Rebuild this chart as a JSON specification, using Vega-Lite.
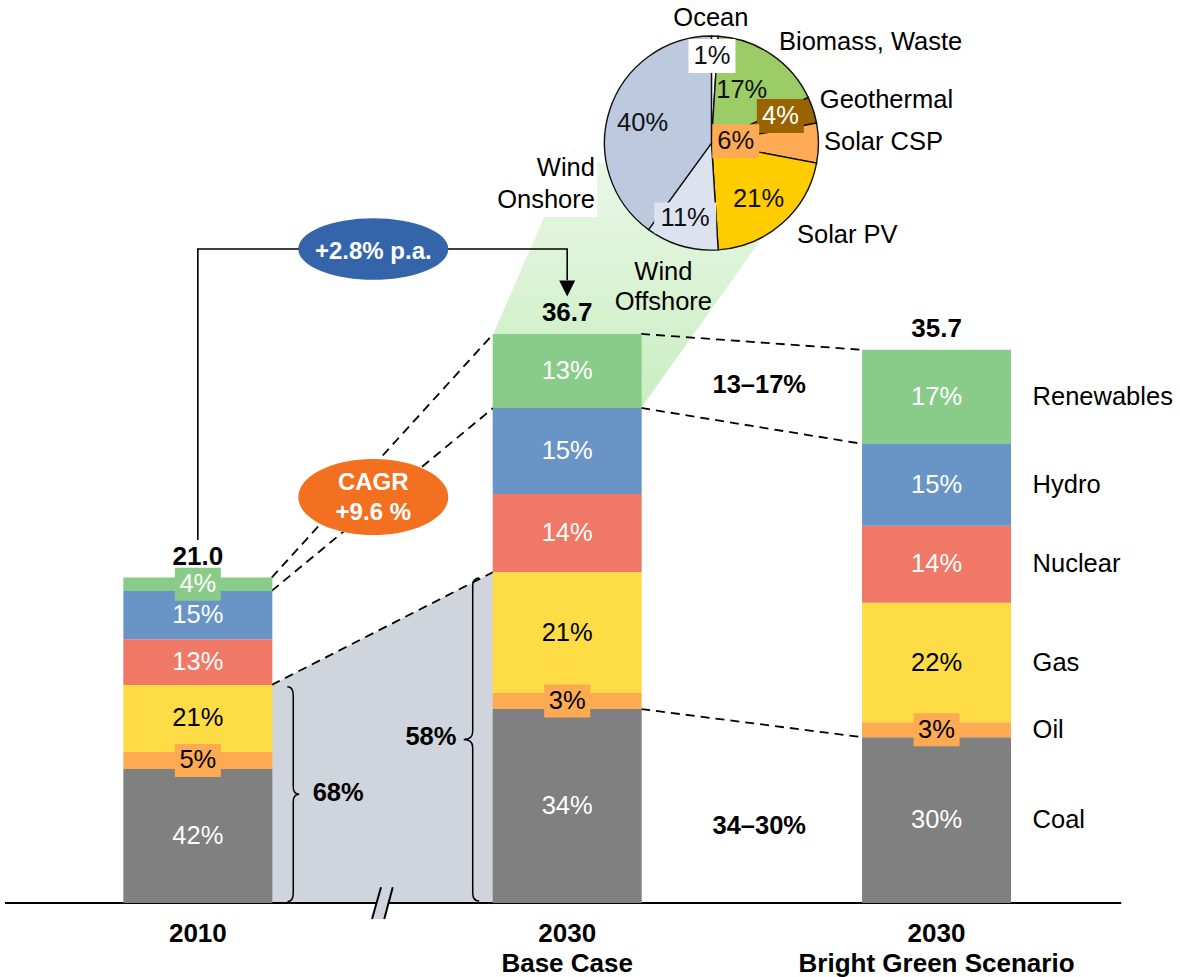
{
  "$schema": "https://vega.github.io/schema/vega-lite/v6.json",
  "width": 1180,
  "height": 977,
  "padding": 0,
  "autosize": {"type": "none"},
  "background": "white",
  "config": {"view": {"stroke": null}, "axis": {"disable": true}, "legend": {"disable": true}, "font": "Liberation Sans"},
  "datasets": {
    "mix": [
      {"scen": "2010", "pos": 0, "src": "Coal", "ord": 1, "value": 8.65, "pct": "42%"},
      {"scen": "2010", "pos": 0, "src": "Oil", "ord": 2, "value": 1.10, "pct": "5%"},
      {"scen": "2010", "pos": 0, "src": "Gas", "ord": 3, "value": 4.33, "pct": "21%"},
      {"scen": "2010", "pos": 0, "src": "Nuclear", "ord": 4, "value": 2.95, "pct": "13%"},
      {"scen": "2010", "pos": 0, "src": "Hydro", "ord": 5, "value": 3.12, "pct": "15%"},
      {"scen": "2010", "pos": 0, "src": "Renewables", "ord": 6, "value": 0.86, "pct": "4%"},
      {"scen": "2030 Base Case", "pos": 1, "src": "Coal", "ord": 1, "value": 12.52, "pct": "34%"},
      {"scen": "2030 Base Case", "pos": 1, "src": "Oil", "ord": 2, "value": 1.03, "pct": "3%"},
      {"scen": "2030 Base Case", "pos": 1, "src": "Gas", "ord": 3, "value": 7.82, "pct": "21%"},
      {"scen": "2030 Base Case", "pos": 1, "src": "Nuclear", "ord": 4, "value": 5.04, "pct": "14%"},
      {"scen": "2030 Base Case", "pos": 1, "src": "Hydro", "ord": 5, "value": 5.55, "pct": "15%"},
      {"scen": "2030 Base Case", "pos": 1, "src": "Renewables", "ord": 6, "value": 4.78, "pct": "13%"},
      {"scen": "2030 Bright Green Scenario", "pos": 2, "src": "Coal", "ord": 1, "value": 10.70, "pct": "30%"},
      {"scen": "2030 Bright Green Scenario", "pos": 2, "src": "Oil", "ord": 2, "value": 0.97, "pct": "3%"},
      {"scen": "2030 Bright Green Scenario", "pos": 2, "src": "Gas", "ord": 3, "value": 7.71, "pct": "22%"},
      {"scen": "2030 Bright Green Scenario", "pos": 2, "src": "Nuclear", "ord": 4, "value": 4.97, "pct": "14%"},
      {"scen": "2030 Bright Green Scenario", "pos": 2, "src": "Hydro", "ord": 5, "value": 5.29, "pct": "15%"},
      {"scen": "2030 Bright Green Scenario", "pos": 2, "src": "Renewables", "ord": 6, "value": 6.07, "pct": "17%"}
    ],
    "scen": [
      {"pos": 0, "label": "2010"},
      {"pos": 1, "label": "2030\nBase Case"},
      {"pos": 2, "label": "2030\nBright Green Scenario"}
    ],
    "pie": [
      {"slice": "Ocean", "share": 1, "ord": 1},
      {"slice": "Biomass, Waste", "share": 17, "ord": 2},
      {"slice": "Geothermal", "share": 4, "ord": 3},
      {"slice": "Solar CSP", "share": 6, "ord": 4},
      {"slice": "Solar PV", "share": 21, "ord": 5},
      {"slice": "Wind Offshore", "share": 11, "ord": 6},
      {"slice": "Wind Onshore", "share": 40, "ord": 7}
    ],
    "pieLabels": [
      {"slice": "Ocean", "pct": "1%", "x": 1.392, "y": 54.68},
      {"slice": "Biomass, Waste", "pct": "17%", "x": 1.4725, "y": 52.49},
      {"slice": "Geothermal", "pct": "4%", "x": 1.5772, "y": 50.81},
      {"slice": "Solar CSP", "pct": "6%", "x": 1.4564, "y": 49.19},
      {"slice": "Solar PV", "pct": "21%", "x": 1.5181, "y": 45.45},
      {"slice": "Wind Offshore", "pct": "11%", "x": 1.3195, "y": 44.22},
      {"slice": "Wind Onshore", "pct": "40%", "x": 1.204, "y": 50.35}
    ],
    "pieNames": [
      {"name": "Ocean", "x": 1.389, "y": 57.13},
      {"name": "Biomass, Waste", "x": 1.8215, "y": 55.58},
      {"name": "Geothermal", "x": 1.8644, "y": 51.84},
      {"name": "Solar CSP", "x": 1.8564, "y": 49.13},
      {"name": "Solar PV", "x": 1.7584, "y": 43.12},
      {"name": "Wind\nOffshore", "x": 1.2604, "y": 40.74}
    ],
    "notes": [
      {"label": "13–17%", "x": 1.52, "y": 33.44},
      {"label": "34–30%", "x": 1.52, "y": 4.97},
      {"label": "68%", "x": 0.38, "y": 7.1},
      {"label": "58%", "x": 0.631, "y": 10.74}
    ],
    "conn": [
      {"id": "c1", "i": 1, "x": 0.2, "y": 21.01}, {"id": "c1", "i": 2, "x": 0.8, "y": 36.74},
      {"id": "c2", "i": 1, "x": 0.2, "y": 20.15}, {"id": "c2", "i": 2, "x": 0.8, "y": 31.96},
      {"id": "c3", "i": 1, "x": 0.2, "y": 14.08}, {"id": "c3", "i": 2, "x": 0.8, "y": 21.37},
      {"id": "c4", "i": 1, "x": 1.2, "y": 36.74}, {"id": "c4", "i": 2, "x": 1.8, "y": 35.71},
      {"id": "c5", "i": 1, "x": 1.2, "y": 31.96}, {"id": "c5", "i": 2, "x": 1.8, "y": 29.64},
      {"id": "c6", "i": 1, "x": 1.2, "y": 12.52}, {"id": "c6", "i": 2, "x": 1.8, "y": 10.70}
    ],
    "gray": [{"x": 0.2, "y": 14.08}, {"x": 0.8, "y": 21.37}],
    "wedge": [
      {"x": 0.8, "y": 36.74, "y2": 36.74},
      {"x": 1.016, "y": 48.61, "y2": 34.15},
      {"x": 1.2, "y": 46.63, "y2": 31.96},
      {"x": 1.5315, "y": 43.06, "y2": 43.06}
    ],
    "arrow": [
      {"i": 1, "x": 0, "y": 23.43},
      {"i": 2, "x": 0, "y": 42.22},
      {"i": 3, "x": 1, "y": 42.22},
      {"i": 4, "x": 1, "y": 40.2}
    ]
  },
  "layer": [
    {
      "data": {"name": "wedge"},
      "mark": {"type": "area", "opacity": 1, "color": {"gradient": "linear", "x1": 0, "y1": 1, "x2": 0, "y2": 0, "stops": [{"offset": 0, "color": "#C9EEC1"}, {"offset": 1, "color": "#EBF8E8"}]}},
      "encoding": {
        "x": {"field": "x", "type": "quantitative", "scale": {"domain": [-0.5221, 2.6456], "nice": false, "zero": false}},
        "y": {"field": "y", "type": "quantitative", "stack": null, "scale": {"domain": [-4.777, 58.296], "nice": false, "zero": false}},
        "y2": {"field": "y2"}
      }
    },
    {
      "data": {"name": "gray"},
      "mark": {"type": "area", "color": "#D0D4DC", "opacity": 1},
      "encoding": {
        "x": {"field": "x", "type": "quantitative", "scale": {"domain": [-0.5221, 2.6456], "nice": false, "zero": false}},
        "y": {"field": "y", "type": "quantitative", "stack": null, "scale": {"domain": [-4.777, 58.296], "nice": false, "zero": false}},
        "y2": {"datum": 0}
      }
    },
    {
      "data": {"name": "conn"},
      "mark": {"type": "line", "stroke": "#000000", "strokeWidth": 1.8, "strokeDash": [9, 6]},
      "encoding": {
        "x": {"field": "x", "type": "quantitative", "scale": {"domain": [-0.5221, 2.6456], "nice": false, "zero": false}},
        "y": {"field": "y", "type": "quantitative", "scale": {"domain": [-4.777, 58.296], "nice": false, "zero": false}},
        "detail": {"field": "id"},
        "order": {"field": "i", "type": "quantitative"}
      }
    },
    {
      "data": {"values": [{}]},
      "mark": {"type": "rule", "stroke": "#000000", "strokeWidth": 2},
      "encoding": {
        "x": {"datum": -0.5221, "type": "quantitative", "scale": {"domain": [-0.5221, 2.6456], "nice": false, "zero": false}},
        "x2": {"datum": 2.5},
        "y": {"datum": 0, "type": "quantitative", "scale": {"domain": [-4.777, 58.296], "nice": false, "zero": false}}
      }
    },
    {
      "data": {"name": "mix"},
      "mark": {"type": "bar", "width": 149, "opacity": 1},
      "encoding": {
        "x": {"field": "pos", "type": "quantitative", "scale": {"domain": [-0.5221, 2.6456], "nice": false, "zero": false}},
        "y": {"field": "value", "type": "quantitative", "stack": "zero", "scale": {"domain": [-4.777, 58.296], "nice": false, "zero": false}},
        "color": {"field": "src", "type": "nominal", "legend": null, "scale": {"domain": ["Coal", "Oil", "Gas", "Nuclear", "Hydro", "Renewables"], "range": ["#808080", "#FDAA52", "#FEDC45", "#EF7866", "#6895C6", "#89CC89"]}},
        "order": {"field": "ord", "type": "quantitative"}
      }
    },
    {
      "data": {"name": "mix"},
      "mark": {"type": "point", "shape": "M-1,-0.717L1,-0.717L1,0.717L-1,0.717Z", "size": 2116, "filled": true, "strokeWidth": 0},
      "encoding": {
        "x": {"field": "pos", "type": "quantitative", "scale": {"domain": [-0.5221, 2.6456], "nice": false, "zero": false}},
        "y": {"field": "value", "type": "quantitative", "stack": "zero", "bandPosition": 0.5, "scale": {"domain": [-4.777, 58.296], "nice": false, "zero": false}},
        "detail": {"field": "src"},
        "order": {"field": "ord", "type": "quantitative"},
        "color": {"field": "src", "type": "nominal", "legend": null, "scale": {"domain": ["Coal", "Oil", "Gas", "Nuclear", "Hydro", "Renewables"], "range": ["#808080", "#FDAA52", "#FEDC45", "#EF7866", "#6895C6", "#89CC89"]}},
        "opacity": {"condition": {"test": "datum.value < 1.2", "value": 1}, "value": 0}
      }
    },
    {
      "data": {"name": "mix"},
      "mark": {"type": "text", "fontSize": 25.5, "align": "center", "baseline": "middle"},
      "encoding": {
        "x": {"field": "pos", "type": "quantitative", "scale": {"domain": [-0.5221, 2.6456], "nice": false, "zero": false}},
        "y": {"field": "value", "type": "quantitative", "stack": "zero", "bandPosition": 0.5, "scale": {"domain": [-4.777, 58.296], "nice": false, "zero": false}},
        "detail": {"field": "src"},
        "order": {"field": "ord", "type": "quantitative"},
        "text": {"field": "pct"},
        "color": {"condition": {"test": "datum.src === 'Gas' || datum.src === 'Oil'", "value": "#000000"}, "value": "#FFFFFF"}
      }
    },
    {
      "data": {"name": "mix"},
      "mark": {"type": "text", "fontSize": 26, "fontWeight": "bold", "align": "center", "baseline": "alphabetic", "dy": -13, "color": "#000000"},
      "encoding": {
        "x": {"field": "pos", "type": "quantitative", "scale": {"domain": [-0.5221, 2.6456], "nice": false, "zero": false}},
        "y": {"aggregate": "sum", "field": "value", "type": "quantitative", "scale": {"domain": [-4.777, 58.296], "nice": false, "zero": false}},
        "text": {"aggregate": "sum", "field": "value", "type": "quantitative", "format": ".1f"}
      }
    },
    {
      "data": {"name": "mix"},
      "transform": [{"filter": "datum.pos === 2"}],
      "mark": {"type": "text", "fontSize": 25.5, "align": "left", "baseline": "middle", "dx": 96, "color": "#000000"},
      "encoding": {
        "x": {"field": "pos", "type": "quantitative", "scale": {"domain": [-0.5221, 2.6456], "nice": false, "zero": false}},
        "y": {"field": "value", "type": "quantitative", "stack": "zero", "bandPosition": 0.5, "scale": {"domain": [-4.777, 58.296], "nice": false, "zero": false}},
        "detail": {"field": "src"},
        "order": {"field": "ord", "type": "quantitative"},
        "text": {"field": "src"}
      }
    },
    {
      "data": {"name": "scen"},
      "mark": {"type": "text", "fontSize": 26, "fontWeight": "bold", "align": "center", "baseline": "top", "dy": 18, "lineBreak": "\n", "lineHeight": 30, "color": "#000000"},
      "encoding": {
        "x": {"field": "pos", "type": "quantitative", "scale": {"domain": [-0.5221, 2.6456], "nice": false, "zero": false}},
        "y": {"datum": 0, "type": "quantitative", "scale": {"domain": [-4.777, 58.296], "nice": false, "zero": false}},
        "text": {"field": "label"}
      }
    },
    {
      "data": {"values": [{}]},
      "mark": {"type": "point", "shape": "M-0.656,1L-0.094,-0.98L0.64,-0.98L0.11,1Z", "size": 1024, "filled": true, "color": "#D0D4DC", "opacity": 1, "strokeWidth": 0},
      "encoding": {
        "x": {"datum": 0.5, "type": "quantitative", "scale": {"domain": [-0.5221, 2.6456], "nice": false, "zero": false}},
        "y": {"datum": 0, "type": "quantitative", "scale": {"domain": [-4.777, 58.296], "nice": false, "zero": false}}
      }
    },
    {
      "data": {"values": [{}]},
      "mark": {"type": "point", "shape": "M-0.656,1L-0.094,-0.98M0.11,1L0.64,-0.98", "size": 1024, "filled": false, "stroke": "#000000", "strokeWidth": 2, "opacity": 1},
      "encoding": {
        "x": {"datum": 0.5, "type": "quantitative", "scale": {"domain": [-0.5221, 2.6456], "nice": false, "zero": false}},
        "y": {"datum": 0, "type": "quantitative", "scale": {"domain": [-4.777, 58.296], "nice": false, "zero": false}}
      }
    },
    {
      "data": {"values": [{}]},
      "mark": {"type": "point", "shape": "M-0.055,-1Q0,-1,0,-0.92L0,-0.07Q0,0,0.056,0Q0,0,0,0.07L0,0.92Q0,1,-0.055,1", "size": 46225, "filled": false, "stroke": "#000000", "strokeWidth": 1.5, "opacity": 1},
      "encoding": {
        "x": {"datum": 0.2583, "type": "quantitative", "scale": {"domain": [-0.5221, 2.6456], "nice": false, "zero": false}},
        "y": {"datum": 7.024, "type": "quantitative", "scale": {"domain": [-4.777, 58.296], "nice": false, "zero": false}}
      }
    },
    {
      "data": {"values": [{}]},
      "mark": {"type": "point", "shape": "M0.04,-1Q0,-1,0,-0.95L0,-0.05Q0,0,-0.056,0Q0,0,0,0.05L0,0.95Q0,1,0.04,1", "size": 104329, "filled": false, "stroke": "#000000", "strokeWidth": 1.5, "opacity": 1},
      "encoding": {
        "x": {"datum": 0.7442, "type": "quantitative", "scale": {"domain": [-0.5221, 2.6456], "nice": false, "zero": false}},
        "y": {"datum": 10.555, "type": "quantitative", "scale": {"domain": [-4.777, 58.296], "nice": false, "zero": false}}
      }
    },
    {
      "data": {"name": "notes"},
      "mark": {"type": "text", "fontSize": 25.5, "fontWeight": "bold", "align": "center", "baseline": "middle", "color": "#000000"},
      "encoding": {
        "x": {"field": "x", "type": "quantitative", "scale": {"domain": [-0.5221, 2.6456], "nice": false, "zero": false}},
        "y": {"field": "y", "type": "quantitative", "scale": {"domain": [-4.777, 58.296], "nice": false, "zero": false}},
        "text": {"field": "label"}
      }
    },
    {
      "data": {"name": "arrow"},
      "mark": {"type": "line", "stroke": "#000000", "strokeWidth": 1.6},
      "encoding": {
        "x": {"field": "x", "type": "quantitative", "scale": {"domain": [-0.5221, 2.6456], "nice": false, "zero": false}},
        "y": {"field": "y", "type": "quantitative", "scale": {"domain": [-4.777, 58.296], "nice": false, "zero": false}},
        "order": {"field": "i", "type": "quantitative"}
      }
    },
    {
      "data": {"values": [{}]},
      "mark": {"type": "point", "shape": "M-1,-1L1,-1L0,1Z", "size": 256, "filled": true, "color": "#000000", "opacity": 1, "strokeWidth": 0},
      "encoding": {
        "x": {"datum": 1, "type": "quantitative", "scale": {"domain": [-0.5221, 2.6456], "nice": false, "zero": false}},
        "y": {"datum": 39.67, "type": "quantitative", "scale": {"domain": [-4.777, 58.296], "nice": false, "zero": false}}
      }
    },
    {
      "data": {"values": [{}]},
      "mark": {"type": "point", "shape": "M-1,0A1,0.41,0,1,1,1,0A1,0.41,0,1,1,-1,0Z", "size": 22500, "filled": true, "color": "#3465AA", "opacity": 1, "strokeWidth": 0},
      "encoding": {
        "x": {"datum": 0.475, "type": "quantitative", "scale": {"domain": [-0.5221, 2.6456], "nice": false, "zero": false}},
        "y": {"datum": 42.22, "type": "quantitative", "scale": {"domain": [-4.777, 58.296], "nice": false, "zero": false}}
      }
    },
    {
      "data": {"values": [{}]},
      "mark": {"type": "text", "text": "+2.8% p.a.", "fontSize": 24, "fontWeight": "bold", "align": "center", "baseline": "middle", "color": "#FFFFFF"},
      "encoding": {
        "x": {"datum": 0.475, "type": "quantitative", "scale": {"domain": [-0.5221, 2.6456], "nice": false, "zero": false}},
        "y": {"datum": 42.05, "type": "quantitative", "scale": {"domain": [-4.777, 58.296], "nice": false, "zero": false}}
      }
    },
    {
      "data": {"values": [{}]},
      "mark": {"type": "point", "shape": "M-1,0A1,0.507,0,1,1,1,0A1,0.507,0,1,1,-1,0Z", "size": 22500, "filled": true, "color": "#F37021", "opacity": 1, "strokeWidth": 0},
      "encoding": {
        "x": {"datum": 0.475, "type": "quantitative", "scale": {"domain": [-0.5221, 2.6456], "nice": false, "zero": false}},
        "y": {"datum": 26.21, "type": "quantitative", "scale": {"domain": [-4.777, 58.296], "nice": false, "zero": false}}
      }
    },
    {
      "data": {"values": [{}]},
      "mark": {"type": "text", "text": ["CAGR", "+9.6 %"], "fontSize": 24, "fontWeight": "bold", "align": "center", "baseline": "middle", "lineHeight": 30, "color": "#FFFFFF"},
      "encoding": {
        "x": {"datum": 0.475, "type": "quantitative", "scale": {"domain": [-0.5221, 2.6456], "nice": false, "zero": false}},
        "y": {"datum": 27.11, "type": "quantitative", "scale": {"domain": [-4.777, 58.296], "nice": false, "zero": false}}
      }
    },
    {
      "data": {"values": [{}]},
      "mark": {"type": "point", "shape": "M-1,-1.05L1,-1.05L1,1.05L-1,1.05Z", "size": 3844, "filled": true, "color": "#FFFFFF", "opacity": 1, "strokeWidth": 0},
      "encoding": {
        "x": {"datum": 0.9973, "type": "quantitative", "scale": {"domain": [-0.5221, 2.6456], "nice": false, "zero": false}},
        "y": {"datum": 46.39, "type": "quantitative", "scale": {"domain": [-4.777, 58.296], "nice": false, "zero": false}}
      }
    },
    {
      "data": {"name": "pie"},
      "transform": [{"stack": "share", "groupby": [], "sort": [{"field": "ord", "order": "ascending"}], "as": ["t0", "t1"]}],
      "mark": {"type": "arc", "outerRadius": 107, "stroke": "#111111", "strokeWidth": 1.4, "opacity": 1},
      "encoding": {
        "x": {"datum": 1.3906, "type": "quantitative", "stack": null, "scale": {"domain": [-0.5221, 2.6456], "nice": false, "zero": false}},
        "y": {"datum": 49.06, "type": "quantitative", "stack": null, "scale": {"domain": [-4.777, 58.296], "nice": false, "zero": false}},
        "theta": {"field": "t0", "type": "quantitative", "scale": {"domain": [0, 100]}},
        "theta2": {"field": "t1"},
        "fill": {"field": "slice", "type": "nominal", "legend": null, "scale": {"domain": ["Ocean", "Biomass, Waste", "Geothermal", "Solar CSP", "Solar PV", "Wind Offshore", "Wind Onshore"], "range": ["#FFFFFF", "#9BCC66", "#996300", "#FFAA55", "#FFCC00", "#DCE3EF", "#BDC9DE"]}}
      }
    },
    {
      "data": {"name": "pieLabels"},
      "transform": [{"filter": {"field": "slice", "oneOf": ["Ocean", "Geothermal", "Solar CSP", "Wind Offshore"]}}],
      "mark": {"type": "point", "filled": true, "opacity": 1, "strokeWidth": 0},
      "encoding": {
        "x": {"field": "x", "type": "quantitative", "scale": {"domain": [-0.5221, 2.6456], "nice": false, "zero": false}},
        "y": {"field": "y", "type": "quantitative", "scale": {"domain": [-4.777, 58.296], "nice": false, "zero": false}},
        "fill": {"field": "slice", "type": "nominal", "legend": null, "scale": {"domain": ["Ocean", "Biomass, Waste", "Geothermal", "Solar CSP", "Solar PV", "Wind Offshore", "Wind Onshore"], "range": ["#FFFFFF", "#9BCC66", "#996300", "#FFAA55", "#FFCC00", "#DCE3EF", "#BDC9DE"]}},
        "shape": {"condition": {"test": "datum.slice === 'Wind Offshore'", "value": "M-1,-0.5L1,-0.5L1,0.5L-1,0.5Z"}, "value": "M-1,-0.72L1,-0.72L1,0.72L-1,0.72Z"},
        "size": {"condition": {"test": "datum.slice === 'Wind Offshore'", "value": 3844}, "value": 2209}
      }
    },
    {
      "data": {"name": "pieLabels"},
      "mark": {"type": "text", "fontSize": 25.5, "align": "center", "baseline": "middle"},
      "encoding": {
        "x": {"field": "x", "type": "quantitative", "scale": {"domain": [-0.5221, 2.6456], "nice": false, "zero": false}},
        "y": {"field": "y", "type": "quantitative", "scale": {"domain": [-4.777, 58.296], "nice": false, "zero": false}},
        "text": {"field": "pct"},
        "color": {"condition": {"test": "datum.slice === 'Geothermal'", "value": "#FFFFFF"}, "value": "#111111"}
      }
    },
    {
      "data": {"name": "pieNames"},
      "mark": {"type": "text", "fontSize": 25.5, "align": "center", "baseline": "middle", "lineBreak": "\n", "lineHeight": 30, "color": "#000000"},
      "encoding": {
        "x": {"field": "x", "type": "quantitative", "scale": {"domain": [-0.5221, 2.6456], "nice": false, "zero": false}},
        "y": {"field": "y", "type": "quantitative", "scale": {"domain": [-4.777, 58.296], "nice": false, "zero": false}},
        "text": {"field": "name"}
      }
    },
    {
      "data": {"values": [{}]},
      "mark": {"type": "text", "text": ["Wind", "Onshore"], "fontSize": 25.5, "align": "right", "baseline": "middle", "lineHeight": 32, "color": "#000000"},
      "encoding": {
        "x": {"datum": 1.0752, "type": "quantitative", "scale": {"domain": [-0.5221, 2.6456], "nice": false, "zero": false}},
        "y": {"datum": 47.45, "type": "quantitative", "scale": {"domain": [-4.777, 58.296], "nice": false, "zero": false}}
      }
    }
  ]
}
